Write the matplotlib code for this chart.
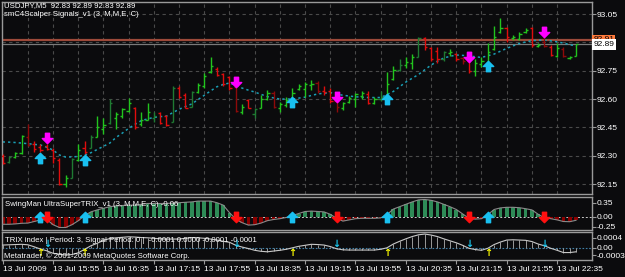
import matplotlib
matplotlib.use('Agg')
from matplotlib import pyplot as plt
from matplotlib.path import Path

# ---- USDJPY M5 bars, 13 Jul 2009 15:15 .. 22:50 ----
bar_open = [92.300, 92.265, 92.295, 92.315, 92.400, 92.360, 92.345, 92.350, 92.330, 92.280,
            92.150, 92.180, 92.280, 92.340, 92.340, 92.400, 92.440, 92.475, 92.500, 92.510,
            92.535, 92.555, 92.470, 92.490, 92.500, 92.525, 92.510, 92.480, 92.660, 92.620,
            92.560, 92.635, 92.670, 92.745, 92.760, 92.735, 92.715, 92.665, 92.530, 92.595,
            92.520, 92.555, 92.600, 92.630, 92.550, 92.570, 92.595, 92.655, 92.655, 92.675,
            92.685, 92.645, 92.640, 92.590, 92.555, 92.585, 92.600, 92.615, 92.625, 92.580,
            92.600, 92.600, 92.705, 92.755, 92.780, 92.790, 92.825, 92.925, 92.870, 92.855,
            92.810, 92.845, 92.840, 92.815, 92.800, 92.750, 92.785, 92.790, 92.865, 92.955,
            92.975, 92.925, 92.920, 92.955, 92.975, 92.880, 92.900, 92.875, 92.830, 92.865,
            92.815, 92.830]
bar_high = [92.310, 92.300, 92.320, 92.410, 92.470, 92.380, 92.360, 92.360, 92.340, 92.290,
            92.200, 92.290, 92.360, 92.380, 92.410, 92.510, 92.500, 92.600, 92.530, 92.550,
            92.605, 92.560, 92.530, 92.580, 92.530, 92.530, 92.515, 92.670, 92.670, 92.630,
            92.640, 92.685, 92.740, 92.820, 92.770, 92.740, 92.720, 92.700, 92.575, 92.600,
            92.550, 92.620, 92.650, 92.640, 92.585, 92.610, 92.660, 92.680, 92.690, 92.700,
            92.695, 92.670, 92.660, 92.620, 92.585, 92.615, 92.630, 92.640, 92.640, 92.610,
            92.640, 92.745, 92.775, 92.810, 92.820, 92.840, 92.930, 92.930, 92.875, 92.875,
            92.855, 92.865, 92.845, 92.820, 92.845, 92.810, 92.820, 92.895, 92.985, 93.030,
            92.980, 92.940, 92.955, 92.975, 92.980, 92.895, 92.950, 92.885, 92.895, 92.875,
            92.830, 92.890]
bar_low = [92.255, 92.260, 92.290, 92.310, 92.350, 92.320, 92.320, 92.330, 92.260, 92.145,
           92.135, 92.180, 92.270, 92.310, 92.340, 92.400, 92.415, 92.470, 92.440, 92.500,
           92.530, 92.440, 92.460, 92.490, 92.480, 92.470, 92.460, 92.480, 92.605, 92.550,
           92.560, 92.630, 92.660, 92.740, 92.720, 92.670, 92.650, 92.530, 92.520, 92.550,
           92.500, 92.550, 92.595, 92.550, 92.530, 92.560, 92.585, 92.650, 92.610, 92.650,
           92.630, 92.620, 92.580, 92.530, 92.540, 92.580, 92.560, 92.600, 92.575, 92.575,
           92.590, 92.590, 92.700, 92.750, 92.765, 92.760, 92.820, 92.860, 92.800, 92.790,
           92.800, 92.830, 92.800, 92.785, 92.740, 92.720, 92.770, 92.780, 92.860, 92.950,
           92.900, 92.910, 92.910, 92.950, 92.875, 92.875, 92.875, 92.830, 92.820, 92.820,
           92.810, 92.830]
bar_close = [92.260, 92.295, 92.315, 92.405, 92.355, 92.335, 92.330, 92.335, 92.290, 92.150,
             92.180, 92.285, 92.330, 92.320, 92.400, 92.450, 92.465, 92.580, 92.520, 92.545,
             92.580, 92.450, 92.490, 92.530, 92.510, 92.475, 92.465, 92.660, 92.610, 92.555,
             92.635, 92.675, 92.720, 92.775, 92.725, 92.680, 92.660, 92.535, 92.560, 92.555,
             92.545, 92.600, 92.630, 92.560, 92.575, 92.595, 92.630, 92.670, 92.680, 92.680,
             92.640, 92.635, 92.590, 92.560, 92.580, 92.605, 92.625, 92.630, 92.580, 92.600,
             92.610, 92.680, 92.755, 92.780, 92.795, 92.820, 92.925, 92.875, 92.810, 92.810,
             92.850, 92.850, 92.810, 92.800, 92.750, 92.790, 92.800, 92.850, 92.930, 92.975,
             92.930, 92.930, 92.945, 92.965, 92.885, 92.885, 92.880, 92.835, 92.870, 92.830,
             92.825, 92.890]
dark_bars = [1, 4, 11, 14, 17, 24, 27, 30, 37, 40, 43, 50, 53, 60, 63, 66, 70, 73, 86, 89]

ma_line = [92.373, 92.372, 92.370, 92.367, 92.364, 92.360, 92.357, 92.345, 92.330, 92.304,
           92.293, 92.294, 92.296, 92.304, 92.316, 92.333, 92.350, 92.367, 92.397, 92.420,
           92.445, 92.466, 92.486, 92.495, 92.503, 92.507, 92.510, 92.528, 92.546, 92.560,
           92.574, 92.597, 92.620, 92.643, 92.665, 92.677, 92.685, 92.672, 92.658, 92.647,
           92.637, 92.625, 92.613, 92.606, 92.600, 92.600, 92.600, 92.605, 92.610, 92.619,
           92.627, 92.631, 92.634, 92.627, 92.620, 92.616, 92.612, 92.610, 92.608, 92.608,
           92.608, 92.624, 92.640, 92.665, 92.690, 92.710, 92.730, 92.755, 92.780, 92.800,
           92.817, 92.826, 92.833, 92.831, 92.828, 92.824, 92.820, 92.829, 92.838, 92.853,
           92.868, 92.881, 92.894, 92.902, 92.909, 92.911, 92.912, 92.908, 92.903, 92.896,
           92.888, 92.880]

buy_idx = [6, 13, 46, 61, 77]
buy_level = [92.288, 92.280, 92.587, 92.600, 92.777]
sell_idx = [7, 37, 53, 74, 86]
sell_level = [92.394, 92.690, 92.610, 92.823, 92.957]

ask_price = 92.91
bid_price = 92.89

swing_hist = [-0.19, -0.19, -0.18, -0.165, -0.16, -0.12, -0.08, -0.07, -0.20, -0.27,
              -0.27, -0.20, -0.10, 0.03, 0.12, 0.17, 0.21, 0.25, 0.27, 0.28,
              0.29, 0.29, 0.31, 0.33, 0.33, 0.33, 0.33, 0.34, 0.35, 0.36,
              0.37, 0.39, 0.39, 0.39, 0.35, 0.29, 0.10, -0.06, -0.15, -0.21,
              -0.20, -0.16, -0.10, -0.07, -0.05, -0.02, 0.03, 0.08, 0.13, 0.14,
              0.13, 0.12, 0.06, -0.04, -0.11, -0.08, -0.05, -0.04, -0.04, -0.04,
              -0.03, 0.05, 0.19, 0.25, 0.31, 0.37, 0.42, 0.43, 0.41, 0.37,
              0.31, 0.25, 0.18, 0.07, -0.04, -0.06, -0.05, 0.05, 0.18, 0.22,
              0.235, 0.235, 0.225, 0.20, 0.17, 0.06, -0.03, -0.05, -0.08, -0.12,
              -0.125, -0.09]

trix = [0.00011, 0.00012, 0.00013, 0.00014, 0.00012, 0.00004, -0.00005, -0.00012, -0.00022, -0.00026,
        -0.00029, -0.00027, -0.00020, -0.00006, 0.00008, 0.00018, 0.00030, 0.00037, 0.00040, 0.00042,
        0.00044, 0.00043, 0.00041, 0.00040, 0.00038, 0.00036, 0.00035, 0.00035, 0.00035, 0.00038,
        0.00041, 0.00040, 0.00038, 0.00035, 0.00031, 0.00026, 0.00022, 0.00010, 0.00003, -0.00003,
        -0.00010, -0.00014, -0.00016, -0.00013, -0.00010, -0.00006, 0.00000, 0.00006, 0.00010, 0.00014,
        0.00013, 0.00011, 0.00005, -0.00004, -0.00008, -0.00009, -0.00009, -0.00009, -0.00009, -0.00009,
        -0.00006, 0.00000, 0.00015, 0.00026, 0.00036, 0.00045, 0.00052, 0.00055, 0.00051, 0.00045,
        0.00036, 0.00028, 0.00020, 0.00010, -0.00002, -0.00007, -0.00010, -0.00002, 0.00013, 0.00023,
        0.00031, 0.00032, 0.00031, 0.00030, 0.00025, 0.00015, 0.00008, -0.00002, -0.00010, -0.00019,
        -0.00019, -0.00016]

price_ticks = [93.05, 92.75, 92.60, 92.45, 92.30, 92.15]
grid_prices = [93.05, 92.90, 92.75, 92.60, 92.45, 92.30, 92.15]
time_idx = [0, 8, 16, 24, 32, 40, 48, 56, 64, 72, 80, 88]
time_labels = ['13 Jul 2009', '13 Jul 15:55', '13 Jul 16:35', '13 Jul 17:15',
               '13 Jul 17:55', '13 Jul 18:35', '13 Jul 19:15', '13 Jul 19:55',
               '13 Jul 20:35', '13 Jul 21:15', '13 Jul 21:55', '13 Jul 22:35']

W, H = 625, 277
BG = '#0b0b0d'
FRAME = '#9a9a9a'
plt.rcParams['font.family'] = ['Liberation Sans', 'DejaVu Sans']


def px_box(x0, y0, x1, y1):
    """Axes rectangle from pixel corners (origin top-left)."""
    return [x0 / W, 1 - y1 / H, (x1 - x0) / W, (y1 - y0) / H]


def style_panel(ax, ticks, labels):
    ax.set_facecolor(BG)
    for sp in ax.spines.values():
        sp.set_color(FRAME)
        sp.set_linewidth(1)
    ax.set_xlim(-0.11, 93.54)
    ax.yaxis.tick_right()
    ax.set_yticks(ticks)
    ax.set_yticklabels(labels)
    ax.tick_params(axis='y', colors=FRAME, labelcolor='white', labelsize=6,
                   length=3, width=0.8, pad=0.5)
    ax.tick_params(axis='x', bottom=False, labelbottom=False)


fig = plt.figure(figsize=(W / 100, H / 100), dpi=100, facecolor=BG)
x = list(range(len(bar_close)))

# ---- main price window ----
ax = fig.add_axes(px_box(2, 2, 592, 194))
style_panel(ax, price_ticks, ['%.2f' % p for p in price_ticks])
ax.set_ylim(92.0976, 93.1135)
for p in grid_prices:
    ax.axhline(p, color='#4a4a4a', lw=0.8, ls=(0, (3, 3)), zorder=0)
for i in range(4, len(x), 4):
    ax.axvline(i, color='#4a4a4a', lw=0.8, ls=(0, (3, 3)), zorder=0)

colors = []
for i in x:
    up = bar_close[i] >= bar_open[i]
    if i in dark_bars:
        colors.append('#1f7a32' if up else '#8e0a0a')
    else:
        colors.append('#22c41e' if up else '#e00d0d')
ax.vlines(x, bar_low, bar_high, colors=colors, lw=1.0, zorder=3)
ax.hlines(bar_open, [i - 0.35 for i in x], x, colors=colors, lw=1.0, zorder=3)
ax.hlines(bar_close, x, [i + 0.35 for i in x], colors=colors, lw=1.0, zorder=3)

ax.plot(x, ma_line, color='#1a9fb5', lw=1.1, ls=(0, (1.5, 2)), zorder=2)

ax.axhline(ask_price, color='#9c4a3a', lw=1.6, zorder=1)
ax.axhline(bid_price, color='#7a7a7a', lw=0.9, zorder=1)

down_arrow = Path([(-0.2, 0.5), (0.2, 0.5), (0.2, 0.0), (0.5, 0.0), (0.0, -0.5),
                   (-0.5, 0.0), (-0.2, 0.0), (-0.2, 0.5)],
                  [Path.MOVETO] + [Path.LINETO] * 6 + [Path.CLOSEPOLY])
up_arrow = Path([(vx, -vy) for vx, vy in down_arrow.vertices], down_arrow.codes)

ax.plot(sell_idx, sell_level, ls='none', marker=down_arrow, ms=7.5,
        color='#ff00ff', mec='#ff00ff', zorder=5)
ax.plot(buy_idx, buy_level, ls='none', marker=up_arrow, ms=7.5,
        color='#19c0f0', mec='#19c0f0', zorder=5)

# price tags on the scale (ask tag partly hidden behind the bid tag)
ax.text(1.002, ask_price + 0.004, '92.91', transform=ax.get_yaxis_transform(), fontsize=6,
        color='black', va='center', ha='left', clip_on=False,
        bbox=dict(boxstyle='square,pad=0.1', fc='#ff7a3c', ec='none'))
ax.text(1.002, bid_price - 0.002, '92.89', transform=ax.get_yaxis_transform(), fontsize=6,
        color='black', va='center', ha='left', clip_on=False,
        bbox=dict(boxstyle='square,pad=0.2', fc='white', ec='none'))

# ---- SwingMan UltraSuperTRIX window ----
ax1 = fig.add_axes(px_box(2, 197, 592, 229.5))
style_panel(ax1, [0.35, 0.0, -0.25], ['0.35', '0.00', '-0.25'])
ax1.set_ylim(-0.32, 0.4925)
hist_colors = ['#2e8b57' if v >= 0 else '#8b0000' for v in swing_hist]
ax1.bar(x, swing_hist, width=0.6, color=hist_colors, zorder=2)
ax1.plot(x, swing_hist, color='#8a8a8a', lw=0.8, zorder=3)
ax1.axhline(0, color='#c8c8c8', lw=0.7, ls=(0, (2, 2)), zorder=1)
ax1.plot(buy_idx, [0] * len(buy_idx), ls='none', marker=up_arrow, ms=7.5,
         color='#19c0f0', mec='#19c0f0', zorder=5)
ax1.plot(sell_idx, [0] * len(sell_idx), ls='none', marker=down_arrow, ms=7.5,
         color='#ff1010', mec='#ff1010', zorder=5)

# ---- TRIX index window ----
ax2 = fig.add_axes(px_box(2, 232, 592, 260))
style_panel(ax2, [0.0004, 0.0, -0.0003], ['0.0004', '0.00', '-0.0003'])
ax2.set_ylim(-0.000488, 0.000632)
ax2.vlines(x, 0, trix, colors='#9a9a9a', lw=0.7, zorder=2)
ax2.plot(x, trix, color='#c8c8c8', lw=0.8, zorder=3)
ax2.axhline(0, color='#3f7fa8', lw=0.8, ls=(0, (1.5, 1.5)), zorder=1)
for i in sell_idx:
    ax2.text(i, 0.00015, '\u2193', color='#19c8f0', fontsize=7, fontweight='bold',
             family='DejaVu Sans', ha='center', va='center', zorder=5)
for i in buy_idx:
    ax2.text(i, -0.0002, '\u2191', color='#ffff00', fontsize=7, fontweight='bold',
             family='DejaVu Sans', ha='center', va='center', zorder=5)

ax2.set_xticks(time_idx)
ax2.set_xticklabels(time_labels, ha='left')
ax2.tick_params(axis='x', bottom=True, labelbottom=True, colors=FRAME,
                labelcolor='white', labelsize=6, length=3, width=0.8, pad=1)

# ---- window captions ----
def caption(px, py, s):
    fig.text(px / W, 1 - py / H, s, color='white', fontsize=5.6, va='center', ha='left')

caption(4, 6, 'USDJPY,M5  92.83 92.89 92.83 92.89')
caption(4, 15, 'smC4Scalper Signals_v1 (3, M,M,E, C)')
caption(5, 205, 'SwingMan UltraSuperTRIX_v1 (3, M,M,E, C) -0.06')
caption(5, 240, 'TRIX index | Period: 3, Signal Period: 0 |  -0.0001 0.0000 -0.0001 -0.0001')
caption(4, 256.5, 'Metatrader, \u00a9 2001-2009 MetaQuotes Software Corp.')

fig.savefig('out.png', dpi=100, facecolor=BG)
